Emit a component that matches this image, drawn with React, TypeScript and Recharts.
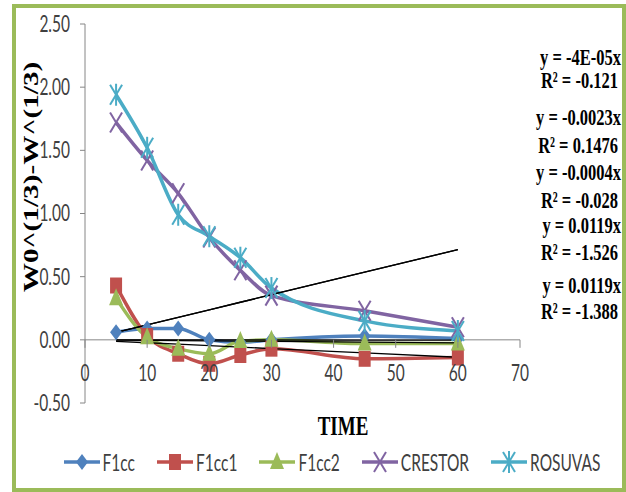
import React from 'react'
import { LineChart, Line, XAxis, YAxis, ReferenceLine, Legend } from 'recharts'

// sampling times and measured W0^(1/3)-W^(1/3) per formulation
const time = [5, 10, 15, 20, 25, 30, 45, 60]
const f1cc = [0.06, 0.09, 0.09, 0.0, -0.02, 0.0, 0.03, 0.01]
const f1cc1 = [0.43, 0.03, -0.11, -0.19, -0.12, -0.07, -0.15, -0.14]
const f1cc2 = [0.33, 0.02, -0.07, -0.11, -0.01, 0.0, -0.03, -0.03]
const crestor = [1.72, 1.42, 1.16, 0.81, 0.55, 0.35, 0.23, 0.1]
const rosuvas = [1.94, 1.52, 0.99, 0.82, 0.65, 0.41, 0.15, 0.07]

const seriesNames = ['F1cc', 'F1cc1', 'F1cc2', 'CRESTOR', 'ROSUVAS']
const seriesColors = ['#4F81BD', '#C0504D', '#9BBB59', '#8064A2', '#4BACC6']
const seriesShapes = ['diamond', 'square', 'triangle', 'x', 'star']
const seriesValues = [f1cc, f1cc1, f1cc2, crestor, rosuvas]

// linear trendlines forced through the origin
const trendSlopes = [-0.00004, -0.0023, -0.0004, 0.0119, 0.0119]
const eqLabels = ['y = -4E-05x', 'y = -0.0023x', 'y = -0.0004x', 'y = 0.0119x', 'y = 0.0119x']
const r2Labels = ['R² = -0.121', 'R² = 0.1476', 'R² = -0.028', 'R² = -1.526', 'R² = -1.388']

const yTicks = [-0.5, 0, 0.5, 1, 1.5, 2, 2.5]
const xTicks = [0, 10, 20, 30, 40, 50, 60, 70]

const W = 626
const H = 492
const MARGIN = { top: 24, right: 106, left: 25, bottom: 39 }
const PLOT_H = 379
const Y_MIN = -0.5
const Y_MAX = 2.5
const ZERO_Y = MARGIN.top + (PLOT_H * Y_MAX) / (Y_MAX - Y_MIN)
const STRETCH = 1.45
const AXIS_GRAY = '#868686'
const TEXT_GRAY = '#404040'

const rows = time.map((t, i) => {
  const row: Record<string, number> = { time: t }
  seriesNames.forEach((n, k) => (row[n] = seriesValues[k][i]))
  trendSlopes.forEach((s, k) => (row['trend' + k] = s * t))
  return row
})

const Marker = ({ shape, cx, cy, color }: any) => {
  if (cx == null || cy == null) return null
  switch (shape) {
    case 'diamond':
      return <polygon points={`${cx},${cy - 8} ${cx + 6},${cy} ${cx},${cy + 8} ${cx - 6},${cy}`} fill={color} />
    case 'square':
      return <rect x={cx - 6} y={cy - 8} width={12} height={16} fill={color} />
    case 'triangle':
      return <polygon points={`${cx},${cy - 10} ${cx + 7},${cy + 7} ${cx - 7},${cy + 7}`} fill={color} />
    case 'x':
      return (
        <g stroke={color} strokeWidth={2}>
          <line x1={cx - 6} y1={cy - 10} x2={cx + 6} y2={cy + 10} />
          <line x1={cx - 6} y1={cy + 10} x2={cx + 6} y2={cy - 10} />
        </g>
      )
    default:
      return (
        <g stroke={color} strokeWidth={2}>
          <line x1={cx - 6} y1={cy - 10} x2={cx + 6} y2={cy + 10} />
          <line x1={cx - 6} y1={cy + 10} x2={cx + 6} y2={cy - 10} />
          <line x1={cx} y1={cy - 11} x2={cx} y2={cy + 11} />
        </g>
      )
  }
}

const YTick = ({ x, y, payload }: any) => (
  <text
    transform={`translate(${x},${y}) scale(1,${STRETCH})`}
    textAnchor="end"
    dy="0.35em"
    fontFamily="Lato"
    fontSize={15.5}
    fill={TEXT_GRAY}
  >
    {payload.value.toFixed(2)}
  </text>
)

// x axis crosses at y = 0, so ticks and labels hang off the zero line
const XTick = ({ x, payload }: any) => (
  <g>
    <line x1={x} x2={x} y1={ZERO_Y} y2={ZERO_Y + 8} stroke={AXIS_GRAY} />
    <text
      transform={`translate(${x},${ZERO_Y + 33}) scale(1,${STRETCH})`}
      textAnchor="middle"
      dy="0.35em"
      fontFamily="Lato"
      fontSize={15.5}
      fill={TEXT_GRAY}
    >
      {payload.value}
    </text>
  </g>
)

const LegendContent = ({ payload }: any) => {
  const items = (payload || [])
    .filter((p: any) => p.type !== 'none' && seriesNames.includes(p.value))
    .sort((a: any, b: any) => seriesNames.indexOf(a.value) - seriesNames.indexOf(b.value))
  return (
    <div style={{ display: 'flex', justifyContent: 'center', gap: 22, height: 30, alignItems: 'center' }}>
      {items.map((p: any) => {
        const k = seriesNames.indexOf(p.value)
        return (
          <div key={p.value} style={{ display: 'flex', alignItems: 'center' }}>
            <svg width={36} height={26}>
              <line x1={0} x2={36} y1={13} y2={13} stroke={seriesColors[k]} strokeWidth={3.5} />
              <Marker shape={seriesShapes[k]} cx={18} cy={13} color={seriesColors[k]} />
            </svg>
            <span
              style={{
                marginLeft: 3,
                fontFamily: 'Lato',
                fontSize: 15.5,
                color: TEXT_GRAY,
                display: 'inline-block',
                transform: `scaleY(${STRETCH})`,
              }}
            >
              {p.value}
            </span>
          </div>
        )
      })}
    </div>
  )
}

const Titles = () => (
  <g fontFamily="'Liberation Serif', 'Times New Roman', serif" fontWeight="bold" fill="#000">
    <text transform={`translate(30,177) rotate(-90) scale(1.33,1)`} textAnchor="middle" dy="0.35em" fontSize={22}>
      W0^(1/3)-W^(1/3)
    </text>
    <text transform={`translate(343,425) scale(1,${STRETCH})`} textAnchor="middle" dy="0.35em" fontSize={19}>
      TIME
    </text>
  </g>
)

const eqY = [57, 80, 117, 145, 172, 200, 225, 252, 285, 311]

const Equations = () => (
  <g fontFamily="'Liberation Serif', 'Times New Roman', serif" fontWeight="bold" fill="#000" fontSize={16.5}>
    {eqLabels.map((eq, k) => (
      <React.Fragment key={k}>
        <text transform={`translate(621,${eqY[2 * k]}) scale(1,1.35)`} textAnchor="end" dy="0.35em">
          {eq}
        </text>
        <text transform={`translate(618,${eqY[2 * k + 1]}) scale(1,1.35)`} textAnchor="end" dy="0.35em">
          {r2Labels[k]}
        </text>
      </React.Fragment>
    ))}
  </g>
)

export default function App() {
  return (
    <div style={{ position: 'relative', width: W, height: H, background: '#fff' }}>
      <style>{'body{margin:0}'}</style>
      <div
        style={{
          position: 'absolute',
          left: 12,
          top: 4,
          width: 614,
          height: 488,
          border: '4px solid #9BBB59',
          boxSizing: 'border-box',
        }}
      />
      <LineChart width={W} height={H} data={rows} margin={MARGIN}>
        <XAxis
          dataKey="time"
          type="number"
          domain={[0, 70]}
          ticks={xTicks}
          axisLine={false}
          tickLine={false}
          height={20}
          tick={<XTick />}
        />
        <YAxis
          domain={[Y_MIN, Y_MAX]}
          ticks={yTicks}
          width={60}
          axisLine={{ stroke: AXIS_GRAY }}
          tickLine={{ stroke: AXIS_GRAY }}
          tickSize={5}
          tickMargin={10}
          tick={<YTick />}
        />
        <ReferenceLine y={0} stroke={AXIS_GRAY} />
        {seriesNames.map((n, k) => (
          <Line
            key={n}
            dataKey={n}
            name={n}
            type="monotone"
            stroke={seriesColors[k]}
            strokeWidth={3.5}
            dot={(p: any) => <Marker key={p.index} shape={seriesShapes[k]} cx={p.cx} cy={p.cy} color={seriesColors[k]} />}
            isAnimationActive={false}
          />
        ))}
        {trendSlopes.map((_, k) => (
          <Line
            key={'trend' + k}
            dataKey={'trend' + k}
            type="linear"
            stroke="#000"
            strokeWidth={1.3}
            dot={false}
            legendType="none"
            isAnimationActive={false}
          />
        ))}
        <Legend
          verticalAlign="bottom"
          content={<LegendContent />}
          wrapperStyle={{ left: 19, width: W, top: 447, bottom: 'auto' }}
        />
        <Titles />
        <Equations />
      </LineChart>
    </div>
  )
}
